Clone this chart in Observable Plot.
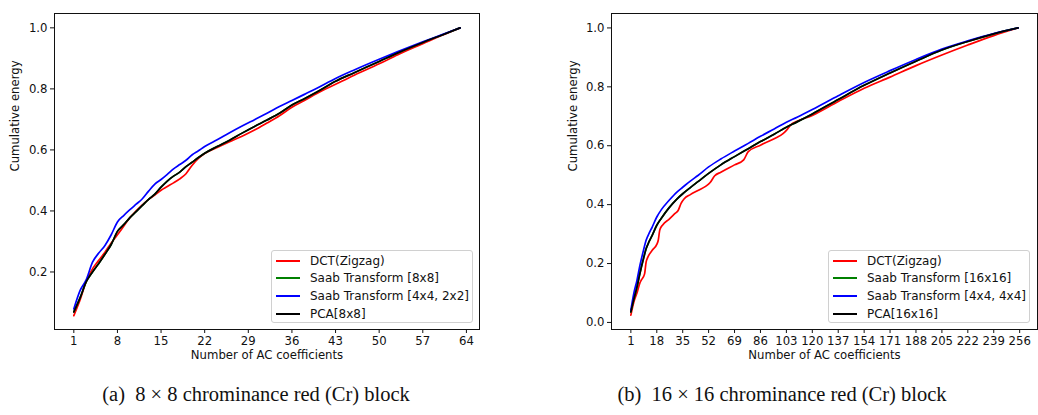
<!DOCTYPE html>
<html><head><meta charset="utf-8">
<script src="https://cdn.jsdelivr.net/npm/d3@7"></script>
<script src="https://cdn.jsdelivr.net/npm/@observablehq/plot@0.6"></script>
<style>
html,body{margin:0;padding:0;background:#fff;}
#wrap{position:relative;width:1038px;height:415px;background:#fff;overflow:hidden;}
.chart{position:absolute;top:0;}
.chart svg{overflow:visible;}
.legend{position:absolute;box-sizing:border-box;border:1px solid #d0d0d0;border-radius:3px;background:rgba(255,255,255,0.85);font-family:"DejaVu Sans",sans-serif;font-size:12px;color:#111;}
.legend .row{position:absolute;left:0;height:16px;line-height:16px;white-space:nowrap;}
.legend .sw{position:absolute;top:7px;height:2px;}
.legend .lab{position:absolute;top:0;}
.cap{position:absolute;top:383px;font-family:"Liberation Serif","Times New Roman",serif;font-size:20.5px;color:#111;white-space:pre;transform:translateX(-50%);}
</style></head>
<body><div id="wrap"></div>
<script>
// ---------- Data: chart (a) 8x8 Cr block ----------
const nA = [1,2,3,4,5,6,7,8,9,10,11,12,13,14,15,16,17,18,19,20,21,22,24,26,28,30,32,34,36,38,40,43,46,50,53,57,60,63];
const dctA = [0.057,0.108,0.170,0.210,0.238,0.265,0.295,0.322,0.350,0.378,0.400,0.420,0.438,0.452,0.468,0.480,0.492,0.505,0.522,0.550,0.572,0.588,0.608,0.627,0.645,0.665,0.688,0.712,0.740,0.762,0.785,0.815,0.845,0.882,0.912,0.948,0.975,1.000];
const saabFullA = [0.069,0.115,0.168,0.200,0.228,0.258,0.290,0.333,0.355,0.378,0.398,0.418,0.438,0.455,0.478,0.498,0.514,0.527,0.545,0.560,0.575,0.589,0.611,0.632,0.655,0.677,0.698,0.720,0.747,0.768,0.790,0.825,0.853,0.890,0.918,0.952,0.976,1.000];
const saabMultiA = [0.079,0.139,0.175,0.232,0.262,0.287,0.322,0.364,0.385,0.404,0.422,0.440,0.465,0.488,0.503,0.520,0.538,0.552,0.566,0.584,0.597,0.611,0.633,0.656,0.678,0.699,0.720,0.742,0.762,0.782,0.802,0.834,0.862,0.897,0.922,0.954,0.977,1.000];
const pcaA = [0.069,0.115,0.168,0.200,0.228,0.258,0.290,0.333,0.355,0.378,0.398,0.418,0.438,0.455,0.478,0.498,0.514,0.527,0.545,0.560,0.575,0.589,0.611,0.632,0.655,0.677,0.698,0.720,0.747,0.768,0.790,0.825,0.853,0.890,0.918,0.952,0.976,1.000];
const xTicksA = [1,8,15,22,29,36,43,50,57,64];
const namesA = ["DCT(Zigzag)","Saab Transform [8x8]","Saab Transform [4x4, 2x2]","PCA[8x8]"];

// ---------- Data: chart (b) 16x16 Cr block ----------
const nB = [1,3,5,7,9,11,13,15,18,21,26,31,35,40,45,52,60,69,78,86,95,103,110,120,137,154,171,188,205,222,239,255];
const nBdct = [1,3,5,7,8,10,11,12,15,18,19,20,22,26,30,32,34,36,40,45,50,53,56,60,69,75,78,86,95,101,103,106,110,120,137,154,171,188,205,222,239,255];
const dctB = [0.025,0.070,0.100,0.135,0.145,0.165,0.205,0.220,0.245,0.265,0.280,0.315,0.332,0.350,0.370,0.380,0.405,0.420,0.434,0.448,0.462,0.475,0.498,0.510,0.535,0.552,0.580,0.602,0.624,0.642,0.652,0.672,0.683,0.703,0.750,0.795,0.833,0.872,0.908,0.942,0.974,1.000];
const saabFullB = [0.036,0.080,0.120,0.168,0.211,0.250,0.275,0.296,0.330,0.354,0.389,0.418,0.437,0.458,0.478,0.506,0.535,0.563,0.590,0.614,0.639,0.663,0.681,0.708,0.757,0.805,0.847,0.887,0.925,0.954,0.980,1.000];
const saabMultiB = [0.042,0.100,0.143,0.195,0.239,0.279,0.303,0.324,0.358,0.383,0.414,0.442,0.459,0.480,0.499,0.528,0.555,0.582,0.608,0.632,0.657,0.680,0.697,0.723,0.770,0.815,0.855,0.893,0.928,0.956,0.981,1.000];
const pcaB = [0.036,0.080,0.120,0.168,0.211,0.250,0.275,0.296,0.330,0.354,0.389,0.418,0.437,0.458,0.478,0.506,0.535,0.563,0.590,0.614,0.639,0.663,0.681,0.708,0.757,0.805,0.847,0.887,0.925,0.954,0.980,1.000];
const xTicksB = [1,18,35,52,69,86,103,120,137,154,171,188,205,222,239,256];
const namesB = ["DCT(Zigzag)","Saab Transform [16x16]","Saab Transform [4x4, 4x4]","PCA[16x16]"];

const colors = ["red","green","blue","black"];
const yTicksA = [0.2,0.4,0.6,0.8,1.0];
const yTicksB = [0.0,0.2,0.4,0.6,0.8,1.0];

function rows(ns, vs, series) { return ns.map((n, i) => ({n, v: vs[i], s: series})); }

function makeChart(cfg) {
  const data = [
    ...rows(cfg.nDct, cfg.dct, cfg.names[0]),
    ...rows(cfg.n, cfg.saabFull, cfg.names[1]),
    ...rows(cfg.n, cfg.saabMulti, cfg.names[2]),
    ...rows(cfg.n, cfg.pca, cfg.names[3])
  ];
  return Plot.plot({
    width: cfg.width, height: cfg.height,
    marginLeft: cfg.ml, marginRight: cfg.mr, marginTop: cfg.mt, marginBottom: cfg.mb,
    style: {fontFamily: "DejaVu Sans, sans-serif", fontSize: "11.7px", color: "#111", background: "transparent"},
    x: {domain: cfg.xDomain},
    y: {domain: cfg.yDomain},
    color: {domain: cfg.names, range: colors},
    marks: [
      Plot.axisX({ticks: cfg.xTicks, tickSize: 4, tickPadding: 3, label: null, tickFormat: d => String(d)}),
      Plot.axisY({ticks: cfg.yTicks, tickSize: 4, tickPadding: 3, label: null, tickFormat: d3.format(".1f")}),
      Plot.line(data, {x: "n", y: "v", z: "s", stroke: "s", strokeWidth: 1.7, curve: "monotone-x"}),
      Plot.frame({stroke: "#111", strokeWidth: 1}),
      Plot.text(["Number of AC coefficients"], {frameAnchor: "bottom", dy: 29, fill: "#111"}),
      Plot.text(["Cumulative energy"], {frameAnchor: "left", dx: cfg.ylabDx, rotate: -90, fill: "#111"})
    ]
  });
}

function makeLegend(names, left, top, w, h, lineL, textL) {
  const lg = document.createElement("div");
  lg.className = "legend";
  Object.assign(lg.style, {left: left + "px", top: top + "px", width: w + "px", height: h + "px"});
  const ys = [1.6, 19.3, 37, 54.6];
  names.forEach((nm, i) => {
    const r = document.createElement("div");
    r.className = "row";
    r.style.top = ys[i] + "px";
    r.style.width = "100%";
    const sw = document.createElement("div");
    sw.className = "sw";
    Object.assign(sw.style, {left: lineL + "px", width: "24px", background: colors[i]});
    const lb = document.createElement("div");
    lb.className = "lab";
    lb.style.left = textL + "px";
    lb.textContent = nm;
    r.appendChild(sw); r.appendChild(lb);
    lg.appendChild(r);
  });
  return lg;
}

const wrap = document.getElementById("wrap");

const cA = document.createElement("div");
cA.className = "chart"; cA.style.left = "0px";
cA.appendChild(makeChart({
  width: 519, height: 375, ml: 54, mr: 40, mt: 13, mb: 46,
  xDomain: [-2.1, 66.1], yDomain: [0.0115, 1.047],
  xTicks: xTicksA, yTicks: yTicksA, names: namesA,
  n: nA, nDct: nA, dct: dctA, saabFull: saabFullA, saabMulti: saabMultiA, pca: pcaA,
  ylabDx: -39
}));
wrap.appendChild(cA);

const cB = document.createElement("div");
cB.className = "chart"; cB.style.left = "530px";
cB.appendChild(makeChart({
  width: 508, height: 375, ml: 81, mr: 1, mt: 13, mb: 46,
  xDomain: [-11.7, 267.7], yDomain: [-0.024, 1.049],
  xTicks: xTicksB, yTicks: yTicksB, names: namesB,
  n: nB, nDct: nBdct, dct: dctB, saabFull: saabFullB, saabMulti: saabMultiB, pca: pcaB,
  ylabDx: -38
}));
wrap.appendChild(cB);

wrap.appendChild(makeLegend(namesA, 271, 250, 202, 73, 4, 38));
wrap.appendChild(makeLegend(namesB, 828, 250, 202, 73, 4, 38));

const capA = document.createElement("div");
capA.className = "cap"; capA.style.left = "256px";
capA.textContent = "(a)  8 \u00d7 8 chrominance red (Cr) block";
wrap.appendChild(capA);
const capB = document.createElement("div");
capB.className = "cap"; capB.style.left = "782px";
capB.textContent = "(b)  16 \u00d7 16 chrominance red (Cr) block";
wrap.appendChild(capB);
</script></body></html>
